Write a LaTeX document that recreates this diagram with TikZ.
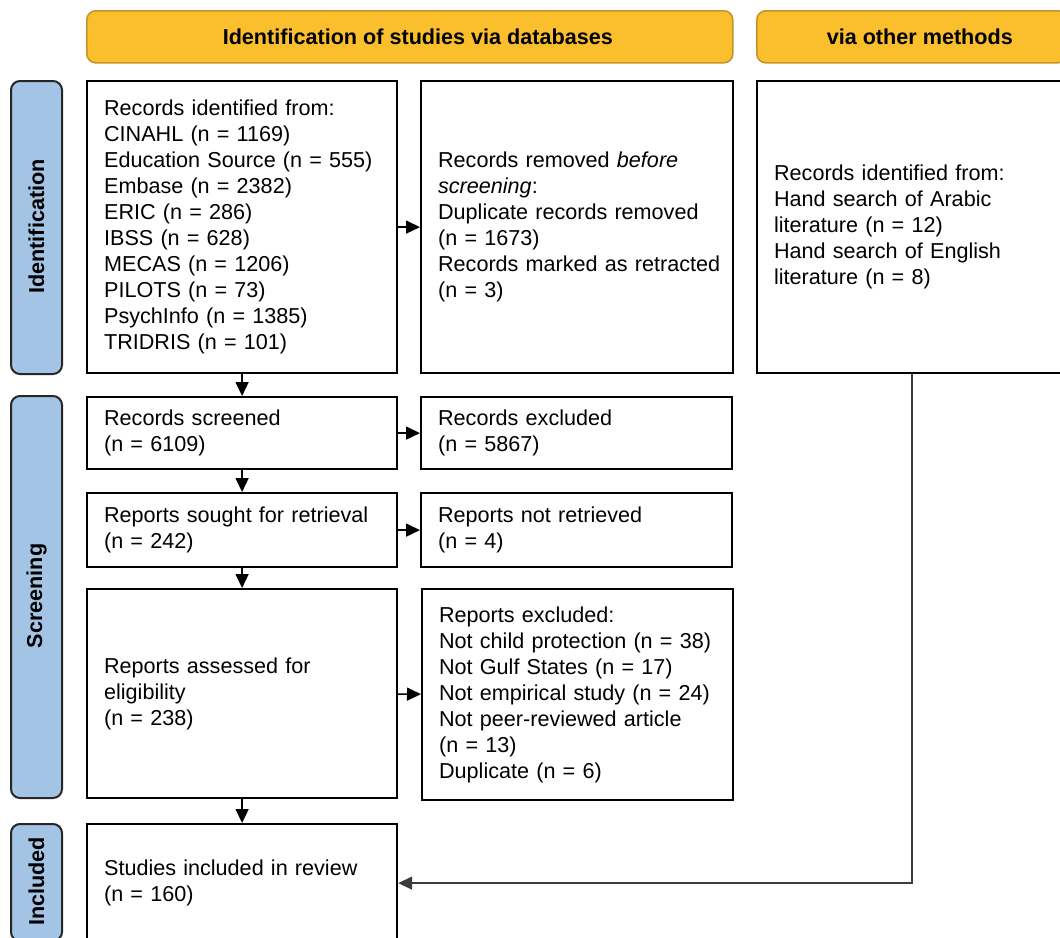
\documentclass[tikz,border=0pt]{standalone}
\usepackage{fontspec}
\setmainfont{Liberation Sans}
\usetikzlibrary{arrows.meta}
\definecolor{headfill}{RGB}{251,191,46}
\definecolor{headdraw}{RGB}{196,148,42}
\definecolor{labfill}{RGB}{163,196,229}
\definecolor{labdraw}{RGB}{38,38,38}
\definecolor{linegray}{RGB}{60,60,60}
\tikzset{
  txt/.style={font=\fontsize{21.6}{26}\selectfont},
  stagebox/.style={txt, draw=black, line width=2.2pt, fill=white, align=left,
    inner xsep=17pt, inner ysep=0pt, anchor=north west},
  headbox/.style={draw=headdraw, fill=headfill,
    line width=1.6pt, rounded corners=9pt, anchor=north west, inner sep=0pt},
  headtext/.style={font=\bfseries\fontsize{21.6}{26}\selectfont, xshift=8pt},
  labbox/.style={draw=labdraw, fill=labfill,
    line width=2pt, rounded corners=9pt, anchor=north west, inner sep=0pt},
  labtext/.style={rotate=90, font=\bfseries\fontsize{21.6}{26}\selectfont, xshift=1pt},
  arr/.style={line width=1.5pt, -{Triangle[length=14pt,width=13pt]}},
}
\begin{document}
\begin{tikzpicture}[x=1pt,y=-1pt]
\clip (0,0) rectangle (1060,937);
\fill[white] (0,0) rectangle (1060,937);
% headers
\node[headbox, minimum width=646pt, minimum height=52pt] (h1) at (86,10) {};
\node[headtext] (h1t) at (h1.center) {Identification of studies via databases};
\node[headbox, minimum width=310pt, minimum height=52pt] (h2) at (756,10) {};
\node[headtext] (h2t) at (h2.center) {via other methods};
% side labels
\node[labbox, minimum width=51pt, minimum height=293pt] (l1) at (10,80) {};
\node[labtext] (l1t) at (l1.center) {Identification};
\node[labbox, minimum width=51pt, minimum height=402pt] (l2) at (10,395) {};
\node[labtext] (l2t) at (l2.center) {Screening};
\node[labbox, minimum width=51pt, minimum height=117pt] (l3) at (10,823) {};
\node[labtext] (l3t) at (l3.center) {Included};
% boxes
\node[stagebox, text width=276pt, minimum height=292pt] (A) at (86,80) {Records identified from:\\CINAHL (n = 1169)\\Education Source (n = 555)\\Embase (n = 2382)\\ERIC (n = 286)\\IBSS (n = 628)\\MECAS (n = 1206)\\PILOTS (n = 73)\\PsychInfo (n = 1385)\\TRIDRIS (n = 101)};
\node[stagebox, text width=278pt, minimum height=292pt] (B) at (420,80) {Records removed \textit{before}\\\textit{screening}:\\Duplicate records removed\\(n = 1673)\\\mbox{Records marked as retracted}\\(n = 3)};
\node[stagebox, text width=276pt, minimum height=292pt] (C) at (756,80) {Records identified from:\\Hand search of Arabic\\literature (n = 12)\\Hand search of English\\literature (n = 8)};
\node[stagebox, text width=276pt, minimum height=72pt] (S) at (86,396) {Records screened\\(n = 6109)};
\node[stagebox, text width=277pt, minimum height=72pt] (SX) at (420,396) {Records excluded\\(n = 5867)};
\node[stagebox, text width=276pt, minimum height=74pt] (R) at (86,492) {Reports sought for retrieval\\(n = 242)};
\node[stagebox, text width=277pt, minimum height=74pt] (RX) at (420,492) {Reports not retrieved\\(n = 4)};
\node[stagebox, text width=276pt, minimum height=209pt] (E) at (86,588) {Reports assessed for\\eligibility\\(n = 238)};
\node[stagebox, text width=277pt, minimum height=211pt] (EX) at (421,588) {Reports excluded:\\Not child protection (n = 38)\\Not Gulf States (n = 17)\\Not empirical study (n = 24)\\Not peer-reviewed article\\(n = 13)\\Duplicate (n = 6)};
\node[stagebox, text width=276pt, minimum height=118pt] (I) at (86,823) {Studies included in review\\(n = 160)};
% connectors
\draw[arr] (A) -- (B);
\draw[arr] (A) -- (S);
\draw[arr] (S) -- (SX);
\draw[arr] (S) -- (R);
\draw[arr] (R) -- (RX);
\draw[arr] (R) -- (E);
\draw[arr] (E) -- (EX);
\draw[arr] (E) -- (I);
\draw[arr, draw=linegray] (C.south) |- (I.east);
\end{tikzpicture}
\end{document}
